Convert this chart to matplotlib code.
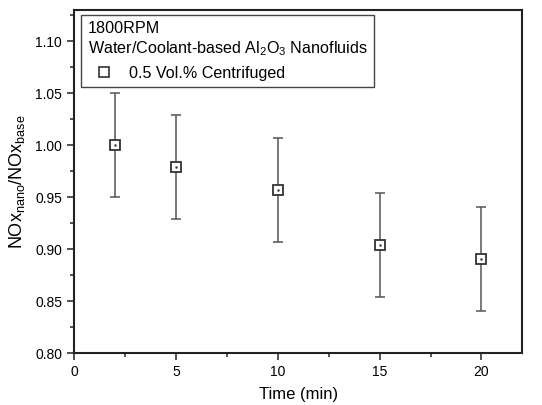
import matplotlib
matplotlib.use('Agg')
import matplotlib.pyplot as plt
from matplotlib.ticker import MultipleLocator
from matplotlib.lines import Line2D

plt.rcParams['font.family'] = ['Liberation Sans', 'DejaVu Sans']
plt.rcParams['mathtext.fontset'] = 'custom'
plt.rcParams['mathtext.rm'] = 'Liberation Sans'
plt.rcParams['mathtext.it'] = 'Liberation Sans'

# data
time_min = [2, 5, 10, 15, 20]
nox_ratio = [1.000, 0.979, 0.957, 0.904, 0.891]
nox_err = [0.050, 0.050, 0.050, 0.050, 0.050]

DARK = '#333333'
BAR = '#555555'

fig = plt.figure(figsize=(5.42, 4.05), dpi=100)
ax = fig.add_axes([0.1365, 0.128, 0.827, 0.847])

ax.errorbar(time_min, nox_ratio, yerr=nox_err, fmt='none', ecolor=BAR,
            elinewidth=1.1, capsize=3.5, capthick=1.1, zorder=2)
ax.plot(time_min, nox_ratio, 's', ms=7, mfc='white', mec=DARK, mew=1.3, zorder=3)
ax.plot(time_min, nox_ratio, '.', ms=1.5, color=DARK, zorder=4)

ax.set_xlim(0, 22)
ax.set_ylim(0.80, 1.13)
ax.xaxis.set_major_locator(MultipleLocator(5))
ax.xaxis.set_minor_locator(MultipleLocator(2.5))
ax.yaxis.set_major_locator(MultipleLocator(0.05))
ax.yaxis.set_minor_locator(MultipleLocator(0.025))
ax.yaxis.set_major_formatter(matplotlib.ticker.FormatStrFormatter('%.2f'))
ax.tick_params(which='both', direction='out', top=False, right=False,
               labelsize=10, width=1.2, color=DARK)
ax.tick_params(which='major', length=5)
ax.tick_params(which='minor', length=3)
for s in ax.spines.values():
    s.set_linewidth(1.5)
    s.set_color('#222222')

ax.set_xlabel('Time (min)', fontsize=12, labelpad=6)
ax.set_ylabel('NOx$_{\\mathrm{nano}}$/NOx$_{\\mathrm{base}}$', fontsize=13, labelpad=6)

handle = Line2D([], [], marker='s', ls='none', ms=7, mfc='white', mec=DARK, mew=1.2)
leg = ax.legend([handle], ['0.5 Vol.% Centrifuged'],
                title='1800RPM\nWater/Coolant-based Al$_2$O$_3$ Nanofluids',
                loc='upper left', bbox_to_anchor=(0.016, 0.986), borderaxespad=0,
                fontsize=11.6, title_fontsize=11.6, fancybox=False,
                edgecolor='#444444', framealpha=1, handletextpad=0.6,
                borderpad=0.4, alignment='left')
leg.get_frame().set_linewidth(1.0)

fig.savefig('out.png', dpi=100)
